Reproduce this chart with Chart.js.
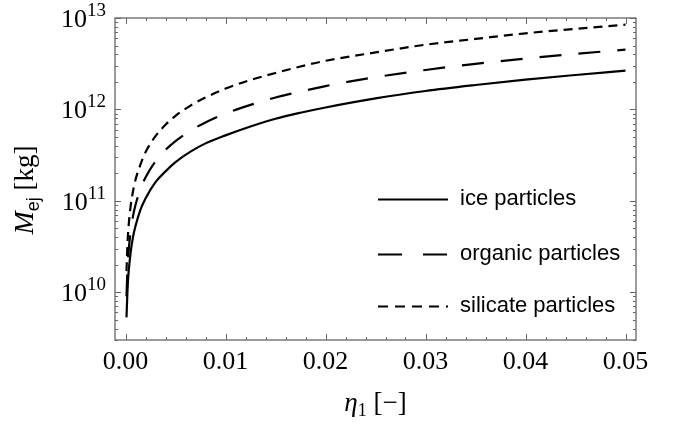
<!DOCTYPE html>
<html>
<head>
<meta charset="utf-8">
<script src="https://cdn.jsdelivr.net/npm/chart.js@4.4.1/dist/chart.umd.min.js"></script>
<style>
    html, body { margin: 0; padding: 0; background: #fff; }
    #wrap { width: 676px; height: 429px; }
</style>
</head>
<body>
<div id="wrap"><canvas id="massChart" width="676" height="429"></canvas></div>
<script>
// 数据
const etaValues = [0.0001, 0.0002, 0.0003, 0.0005, 0.00075, 0.001, 0.0015, 0.002, 0.003, 0.004, 0.005, 0.0065,
    0.008, 0.01, 0.0125, 0.015, 0.0175, 0.02, 0.025, 0.03, 0.035, 0.04, 0.045, 0.05];
const iceMass = [5.3e9, 1.06e10, 1.6e10, 2.65e10, 4.0e10, 5.3e10, 8.0e10, 1.06e11, 1.6e11, 2.1e11, 2.65e11, 3.45e11,
    4.25e11, 5.2e11, 6.5e11, 7.9e11, 9.2e11, 1.05e12, 1.32e12, 1.59e12, 1.85e12, 2.12e12, 2.38e12, 2.65e12];
const organicMass = [9e9, 1.8e10, 2.7e10, 4.5e10, 6.8e10, 9e10, 1.35e11, 1.8e11, 2.7e11, 3.6e11, 4.5e11, 5.85e11,
    7.2e11, 9e11, 1.12e12, 1.35e12, 1.57e12, 1.8e12, 2.25e12, 2.7e12, 3.15e12, 3.6e12, 4.05e12, 4.5e12];
const silicateMass = [1.7e10, 3.4e10, 5.1e10, 8.5e10, 1.27e11, 1.7e11, 2.5e11, 3.4e11, 5.1e11, 6.8e11, 8.5e11, 1.1e12,
    1.35e12, 1.69e12, 2.1e12, 2.5e12, 2.95e12, 3.4e12, 4.2e12, 5.1e12, 5.9e12, 6.8e12, 7.6e12, 8.45e12];
const seriesLabels = ['ice particles', 'organic particles', 'silicate particles'];
const xTickValues = [0, 0.01, 0.02, 0.03, 0.04, 0.05];
const xTickLabels = ['0.00', '0.01', '0.02', '0.03', '0.04', '0.05'];
const yTickExponents = [10, 11, 12, 13];

const SERIF = '"Liberation Serif", "Times New Roman", serif';
const SANS = '"Liberation Sans", Arial, sans-serif';
const FRAME = '#666';

function toPoints(ys) {
    return etaValues.map((x, i) => ({ x: x, y: ys[i] }));
}

const lineStyles = [
    { dash: [] },
    { dash: [22, 17] },
    { dash: [9, 6] }
];

// 坐标框、刻度、标签、图例
const framePlugin = {
    id: 'framePlugin',
    afterDraw(chart) {
        const ctx = chart.ctx;
        const a = chart.chartArea;
        const xs = chart.scales.x;
        const ys = chart.scales.y;
        ctx.save();

        // 边框
        ctx.strokeStyle = FRAME;
        ctx.lineWidth = 1.3;
        ctx.strokeRect(a.left, a.top, a.right - a.left, a.bottom - a.top);

        // x 刻度
        ctx.lineWidth = 1;
        for (let i = 0; i <= 25; i++) {
            const v = i * 0.002;
            const px = Math.round(xs.getPixelForValue(v)) + 0.5;
            const len = (i % 5 === 0) ? 6 : 3;
            ctx.beginPath();
            ctx.moveTo(px, a.bottom); ctx.lineTo(px, a.bottom - len);
            ctx.moveTo(px, a.top); ctx.lineTo(px, a.top + len);
            ctx.stroke();
        }
        // y 刻度
        for (let d = 9; d <= 12; d++) {
            for (let k = 1; k <= 9; k++) {
                const v = k * Math.pow(10, d);
                if (v < ys.min || v > ys.max) continue;
                const py = Math.round(ys.getPixelForValue(v)) + 0.5;
                const len = (k === 1) ? 6 : 3;
                ctx.beginPath();
                ctx.moveTo(a.left, py); ctx.lineTo(a.left + len, py);
                ctx.moveTo(a.right, py); ctx.lineTo(a.right - len, py);
                ctx.stroke();
            }
        }
        {
            const py = Math.round(ys.getPixelForValue(1e13)) + 0.5;
            ctx.beginPath();
            ctx.moveTo(a.left, py); ctx.lineTo(a.left + 6, py);
            ctx.moveTo(a.right, py); ctx.lineTo(a.right - 6, py);
            ctx.stroke();
        }

        // x 标签
        ctx.fillStyle = '#000';
        ctx.font = '26px ' + SERIF;
        ctx.textAlign = 'center';
        ctx.textBaseline = 'alphabetic';
        xTickValues.forEach((v, i) => {
            ctx.fillText(xTickLabels[i], xs.getPixelForValue(v), a.bottom + 29);
        });

        // y 标签 10^n
        yTickExponents.forEach(e => {
            const py = ys.getPixelForValue(Math.pow(10, e));
            ctx.font = '19px ' + SERIF;
            ctx.textAlign = 'right';
            const expText = String(e);
            const expW = ctx.measureText(expText).width;
            ctx.fillText(expText, a.left - 9, py - 2);
            ctx.font = '26px ' + SERIF;
            ctx.fillText('10', a.left - 9 - expW, py + 9);
        });

        // x 轴标题 η1 [−]
        {
            const cx = (a.left + a.right) / 2;
            const base = a.bottom + 71;
            const parts = [
                { t: 'η', f: 'italic 27px ' + SERIF, dy: 0 },
                { t: '1', f: '18px ' + SERIF, dy: 5 },
                { t: ' [−]', f: '27px ' + SERIF, dy: 0 }
            ];
            drawParts(ctx, parts, cx, base);
        }

        // y 轴标题 Mej [kg]
        {
            ctx.save();
            ctx.translate(33, (a.top + a.bottom) / 2 + 11);
            ctx.rotate(-Math.PI / 2);
            const parts = [
                { t: 'M', f: 'italic 28px ' + SERIF, dy: 0 },
                { t: 'ej', f: '18px ' + SANS, dy: 6 },
                { t: ' [kg]', f: '27px ' + SERIF, dy: 0 }
            ];
            drawParts(ctx, parts, 0, 0);
            ctx.restore();
        }

        // 图例
        const legendY = [199.5, 254.5, 306.5];
        seriesLabels.forEach((label, i) => {
            ctx.strokeStyle = '#000';
            ctx.lineWidth = 2.2;
            ctx.setLineDash(i === 1 ? [24, 21] : i === 2 ? [10, 7] : []);
            ctx.beginPath();
            ctx.moveTo(378, legendY[i]);
            ctx.lineTo(448, legendY[i]);
            ctx.stroke();
            ctx.setLineDash([]);
            ctx.fillStyle = '#000';
            ctx.font = '22px ' + SANS;
            ctx.textAlign = 'left';
            ctx.textBaseline = 'middle';
            ctx.fillText(label, 460, legendY[i] - 1);
        });

        ctx.restore();
    }
};

function drawParts(ctx, parts, cx, base) {
    let total = 0;
    parts.forEach(p => { ctx.font = p.f; p.w = ctx.measureText(p.t).width; total += p.w; });
    let x = cx - total / 2;
    ctx.textAlign = 'left';
    ctx.textBaseline = 'alphabetic';
    ctx.fillStyle = '#000';
    parts.forEach(p => {
        ctx.font = p.f;
        ctx.fillText(p.t, x, base + p.dy);
        x += p.w;
    });
}

const datasets = [iceMass, organicMass, silicateMass].map((ys, i) => ({
    label: seriesLabels[i],
    data: toPoints(ys),
    borderColor: '#000',
    borderWidth: 2.2,
    borderDash: lineStyles[i].dash,
    pointRadius: 0,
    cubicInterpolationMode: 'monotone',
    fill: false
}));

new Chart(document.getElementById('massChart').getContext('2d'), {
    type: 'line',
    data: { datasets: datasets },
    options: {
        responsive: false,
        animation: false,
        devicePixelRatio: 1,
        layout: { padding: { left: 115, right: 40, top: 18, bottom: 89 } },
        scales: {
            x: { type: 'linear', min: -0.00105, max: 0.05105, display: false },
            y: { type: 'logarithmic', min: 3e9, max: 1e13, display: false }
        },
        plugins: {
            legend: { display: false },
            tooltip: { enabled: false }
        }
    },
    plugins: [framePlugin]
});
</script>
</body>
</html>
